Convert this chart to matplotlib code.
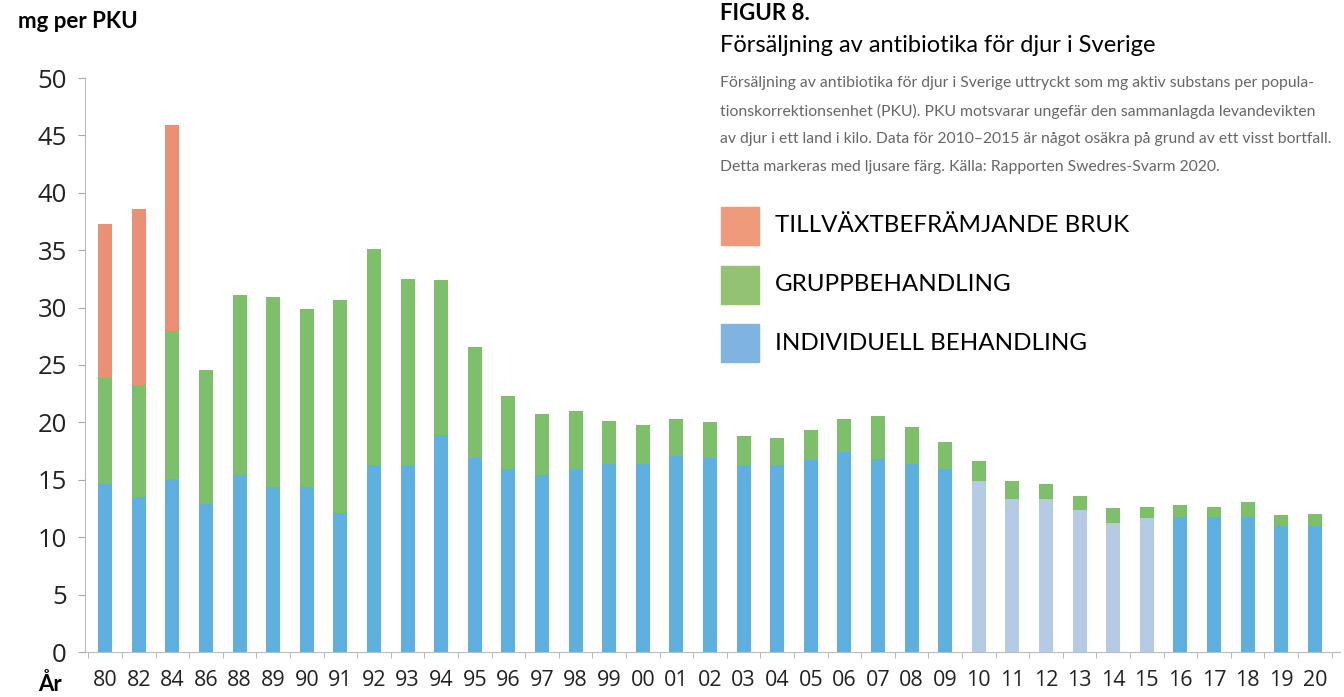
import matplotlib.pyplot as plt
from matplotlib.patches import Rectangle
import numpy as np

# data (mg per PKU)
years = [1980, 1982, 1984, 1986, 1988, 1989, 1990, 1991, 1992, 1993, 1994,
         1995, 1996, 1997, 1998, 1999, 2000, 2001, 2002, 2003, 2004, 2005,
         2006, 2007, 2008, 2009, 2010, 2011, 2012, 2013, 2014, 2015, 2016,
         2017, 2018, 2019, 2020]
individuell = [14.6, 13.5, 15.1, 12.9, 15.4, 14.4, 14.4, 12.1, 16.3, 16.3, 18.9,
               16.9, 15.9, 15.4, 15.9, 16.4, 16.4, 17.1, 16.9, 16.3, 16.3, 16.7,
               17.4, 16.8, 16.4, 15.9, 14.9, 13.3, 13.3, 12.4, 11.2, 11.7, 11.8,
               11.8, 11.8, 11.0, 11.0]
grupp = [9.3, 9.8, 12.9, 11.7, 15.7, 16.5, 15.5, 18.6, 18.8, 16.2, 13.5,
         9.7, 6.4, 5.3, 5.1, 3.7, 3.4, 3.2, 3.1, 2.5, 2.3, 2.6,
         2.9, 3.8, 3.2, 2.4, 1.7, 1.6, 1.3, 1.2, 1.3, 0.9, 1.0,
         0.8, 1.3, 0.9, 1.0]
tillvaxt = [13.4, 15.3, 17.9] + [0] * 34
osakra = [2010, 2011, 2012, 2013, 2014, 2015]   # osäkra år, ljusare färg

labels = [str(y)[2:] for y in years]

c_orange = '#EA9074'
c_green = '#7DBF6B'
c_blue = '#5FAFDF'
c_lightblue = '#B5CBE4'

plt.rcParams['font.family'] = ['Lato', 'DejaVu Sans']

fig = plt.figure(figsize=(13.44, 6.97), dpi=100)
ax = fig.add_axes([85/1344, 1 - 652/697, (1340 - 85)/1344, (652 - 78)/697])

x = np.arange(len(years))
w = 0.42
blue_cols = [c_lightblue if y in osakra else c_blue for y in years]
ind = np.array(individuell)
gr = np.array(grupp)
ax.bar(x, ind, w, color=blue_cols)
ax.bar(x, gr, w, bottom=ind, color=c_green)
ax.bar(x, tillvaxt, w, bottom=ind + gr, color=c_orange)

ax.set_xlim(-0.6, 36.75)
ax.set_ylim(0, 50)
ax.set_yticks(np.arange(0, 51, 5))
ax.set_xticks(x)
ax.set_xticklabels(labels, fontsize=15.5, color='#222222', family=['Open Sans', 'DejaVu Sans'])
ax.set_xticks(np.arange(-0.5, 36.6, 1), minor=True)
ax.tick_params(axis='x', which='major', length=0, pad=13)
ax.tick_params(axis='x', which='minor', length=4, color='#aaaaaa')
ax.tick_params(axis='y', length=5, color='#aaaaaa', labelsize=18.5, labelcolor='#222222', pad=8)
for lab in ax.get_yticklabels():
    lab.set_family(['Open Sans', 'DejaVu Sans'])
for s in ['top', 'right']:
    ax.spines[s].set_visible(False)
ax.spines['left'].set_color('#bbbbbb')
ax.spines['bottom'].set_color('#bbbbbb')

fig.text(18/1344, 1 - 22/697, 'mg per PKU', fontsize=16, fontweight='bold', va='center')
fig.text(38/1344, 1 - 684/697, 'År', fontsize=16, fontweight='bold', va='center')

# rubrik och beskrivning
fig.text(720/1344, 1 - 14/697, 'FIGUR 8.', fontsize=16, fontweight='bold', va='center')
fig.text(720/1344, 1 - 46/697, 'Försäljning av antibiotika för djur i Sverige', fontsize=17, va='center')
desc = ['Försäljning av antibiotika för djur i Sverige uttryckt som mg aktiv substans per popula-',
        'tionskorrektionsenhet (PKU). PKU motsvarar ungefär den sammanlagda levandevikten',
        'av djur i ett land i kilo. Data för 2010–2015 är något osäkra på grund av ett visst bortfall.',
        'Detta markeras med ljusare färg. Källa: Rapporten Swedres-Svarm 2020.']
for i, line in enumerate(desc):
    fig.text(720/1344, 1 - (83 + i*28)/697, line, fontsize=11.3, color='#666666', va='center')

# förklaring
leg = [('TILLVÄXTBEFRÄMJANDE BRUK', '#EF9A7B'),
       ('GRUPPBEHANDLING', '#92C272'),
       ('INDIVIDUELL BEHANDLING', '#7FB3E0')]
for i, (txt, col) in enumerate(leg):
    yc = 226 + i * 58.5
    fig.add_artist(Rectangle((721/1344, 1 - (yc + 19)/697), 38/1344, 38/697,
                             color=col, transform=fig.transFigure))
    fig.text(775/1344, 1 - yc/697, txt, fontsize=17.4, va='center')

fig.savefig('out.png', dpi=100)
